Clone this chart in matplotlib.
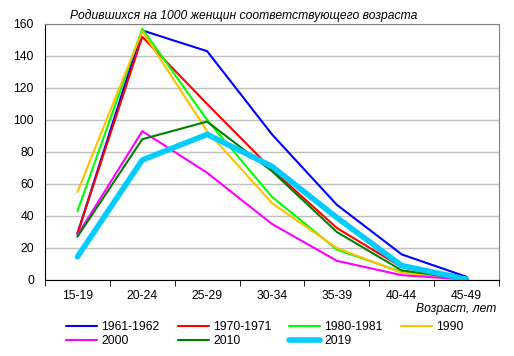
import numpy as np
import matplotlib.pyplot as plt

plt.rcParams['font.family'] = ['Liberation Sans', 'DejaVu Sans']

# Data
ages = ['15-19', '20-24', '25-29', '30-34', '35-39', '40-44', '45-49']
years = ['1961-1962', '1970-1971', '1980-1981', '1990', '2000', '2010', '2019']
v1961 = [29, 156, 143, 91, 47, 16, 2]
v1970 = [29, 152, 110, 69, 32.5, 8, 0.5]
v1980 = [43, 157, 100, 52, 19, 5, 0.5]
v1990 = [55, 155.5, 93, 48, 20, 4.5, 0.5]
v2000 = [28, 93, 67, 35, 12, 3, 0.3]
v2010 = [27, 88, 99, 68, 30, 6, 0.5]
v2019 = [14.5, 75, 91, 71, 39, 9, 0.5]

series = [v1961, v1970, v1980, v1990, v2000, v2010, v2019]
colors = ['#0000ff', '#ff0000', '#00ff00', '#ffc000', '#ff00ff', '#008000', '#00ccff']
widths = [1.5, 1.5, 1.5, 1.5, 1.5, 1.5, 4.0]
fs = 8.7

fig = plt.figure(figsize=(5.14, 3.56), dpi=100)
ax = fig.add_axes([45/514, 1 - 280/356, 454/514, 256/356])

x = np.arange(len(ages))
handles = []
for vals, c, lw, name in zip(series, colors, widths, years):
    h, = ax.plot(x, vals, color=c, linewidth=lw, label=name, solid_capstyle='round')
    handles.append(h)

ax.set_xlim(-0.5, len(ages) - 0.5)
ax.set_ylim(0, 160)
ax.set_yticks(np.arange(0, 161, 20))
ax.yaxis.grid(True, color='#c0c0c0', linewidth=1)
ax.set_axisbelow(True)
ax.tick_params(axis='y', length=0, labelsize=fs, pad=8)

ax.set_xticks(x)
ax.set_xticklabels(ages, fontsize=fs)
ax.set_xticks(np.arange(-0.5, len(ages), 1), minor=True)
ax.tick_params(axis='x', which='major', length=0, pad=7)
ax.tick_params(axis='x', which='minor', length=4, direction='out', color='black')

for s in ['top', 'right']:
    ax.spines[s].set_color('#808080')
for s in ['left', 'bottom']:
    ax.spines[s].set_color('black')

fig.text(70/514, 1 - 16/356, 'Родившихся на 1000 женщин соответствующего возраста',
         fontsize=fs, style='italic', va='center', ha='left')
fig.text(496/514, 1 - 309/356, 'Возраст, лет', fontsize=fs, style='italic',
         va='center', ha='right')

# legend: four fixed-width columns, filled row by row
col_x = [66, 178, 289, 401]
for i, cx in enumerate(col_x):
    hs = [handles[j] for j in (i, i + 4) if j < len(handles)]
    fig.legend(handles=hs, labels=[h.get_label() for h in hs],
               loc='upper left', bbox_to_anchor=(cx/514, 1 - 321/356),
               frameon=False, fontsize=fs, handlelength=2.6, handletextpad=0.3,
               labelspacing=0.15, borderaxespad=0, borderpad=0)

fig.savefig('out.png', dpi=100)
